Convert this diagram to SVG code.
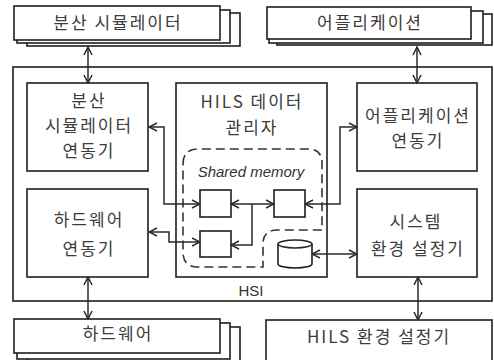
<svg xmlns="http://www.w3.org/2000/svg" width="494" height="360" viewBox="0 0 494 360">
<defs>
<style>
.box{fill:#fff;stroke:#1e1e1e;stroke-width:1.6}
.outer{fill:none;stroke:#1e1e1e;stroke-width:1.6}
.dash{fill:none;stroke:#333;stroke-width:1.6;stroke-dasharray:9 5}
.ln{fill:none;stroke:#2a2a2a;stroke-width:1.5}
.t{font-family:"Noto Sans CJK KR","Noto Sans",sans-serif;font-size:17px;fill:#3c3c3c;text-anchor:middle;letter-spacing:2px}
.s{font-family:"Liberation Sans",Arial,sans-serif;font-size:15px;font-style:italic;fill:#333;text-anchor:middle}
.h{font-family:"Liberation Sans",Arial,sans-serif;font-size:15px;fill:#333;text-anchor:middle}
</style>
<marker id="ah" viewBox="0 0 10 10" refX="9" refY="5" markerWidth="10" markerHeight="10" markerUnits="userSpaceOnUse" orient="auto-start-reverse">
<path d="M1,1 L9,5 L1,9" fill="none" stroke="#2a2a2a" stroke-width="1.5"/>
</marker>
</defs>
<rect width="494" height="360" fill="#fff"/>

<g id="hsi">
<rect class="outer" x="13" y="67" width="479" height="234"/>
<text class="h" x="251" y="296">HSI</text>
</g>

<g id="dist-sim">
<rect class="box" x="27" y="13" width="213" height="33"/>
<rect class="box" x="17" y="10" width="213" height="33"/>
<rect class="box" x="14" y="6" width="206" height="34"/>
<text class="t" x="118" y="29">분산 시뮬레이터</text>
</g>

<g id="application">
<rect class="box" x="277" y="14" width="215" height="31"/>
<rect class="box" x="269" y="11" width="214" height="32"/>
<rect class="box" x="267" y="7" width="204" height="32"/>
<text class="t" x="370" y="29">어플리케이션</text>
</g>

<g id="hardware">
<rect class="box" x="27" y="327" width="213" height="36"/>
<rect class="box" x="17" y="323" width="213" height="36"/>
<rect class="box" x="14" y="319" width="206" height="34"/>
<text class="t" x="118" y="340">하드웨어</text>
</g>

<g id="hils-env">
<rect class="box" x="266" y="320" width="226" height="44"/>
<text class="t" x="379" y="343">HILS 환경 설정기</text>
</g>

<g id="dist-sim-link">
<rect class="box" x="27" y="83" width="121" height="88"/>
<text class="t" x="89" y="107">분산</text>
<text class="t" x="89" y="132">시뮬레이터</text>
<text class="t" x="89" y="157">연동기</text>
</g>

<g id="hw-link">
<rect class="box" x="27" y="189" width="121" height="88"/>
<text class="t" x="89" y="226">하드웨어</text>
<text class="t" x="89" y="255">연동기</text>
</g>

<g id="data-manager">
<rect class="box" x="176" y="83" width="151" height="194"/>
<text class="t" x="252" y="108">HILS 데이터</text>
<text class="t" x="252" y="134">관리자</text>
</g>

<g id="shared-memory">
<path class="dash" d="M183,164 Q183,149 198,149 H308 Q322,149 322,163 V230 H277 Q263,230 263,244 V267 H198 Q183,267 183,252 Z"/>
<text class="s" x="251" y="177">Shared memory</text>
</g>

<g id="buf-a"><rect class="box" x="200" y="190" width="31" height="27"/></g>
<g id="buf-b"><rect class="box" x="274" y="190" width="31" height="27"/></g>
<g id="buf-c"><rect class="box" x="200" y="231" width="31" height="26"/></g>

<g id="db">
<path class="box" d="M278,244 A17,4 0 0 1 312,244 V264 A17,4 0 0 1 278,264 Z"/>
<path class="ln" d="M278,244 A17,4 0 0 0 312,244"/>
</g>

<g id="app-link">
<rect class="box" x="357" y="83" width="120" height="88"/>
<text class="t" x="418" y="122">어플리케이션</text>
<text class="t" x="418" y="147">연동기</text>
</g>

<g id="sys-env">
<rect class="box" x="357" y="189" width="120" height="88"/>
<text class="t" x="416" y="228">시스템</text>
<text class="t" x="418" y="255">환경 설정기</text>
</g>

<g id="connectors">
<path class="ln" d="M88,47 V83" marker-start="url(#ah)" marker-end="url(#ah)"/>
<path class="ln" d="M417,47 V83" marker-start="url(#ah)" marker-end="url(#ah)"/>
<path class="ln" d="M88,277 V319" marker-start="url(#ah)" marker-end="url(#ah)"/>
<path class="ln" d="M418,277 V320" marker-start="url(#ah)" marker-end="url(#ah)"/>
<path class="ln" d="M149,127 H164 V204 H200" marker-start="url(#ah)" marker-end="url(#ah)"/>
<path class="ln" d="M149,232 H169 V242 H200" marker-start="url(#ah)" marker-end="url(#ah)"/>
<path class="ln" d="M231,204 H274" marker-start="url(#ah)" marker-end="url(#ah)"/>
<path class="ln" d="M252,204 V245 H231" marker-end="url(#ah)"/>
<path class="ln" d="M305,204 H340 V127 H357" marker-start="url(#ah)" marker-end="url(#ah)"/>
<path class="ln" d="M312,254 H357" marker-start="url(#ah)" marker-end="url(#ah)"/>
</g>
</svg>
